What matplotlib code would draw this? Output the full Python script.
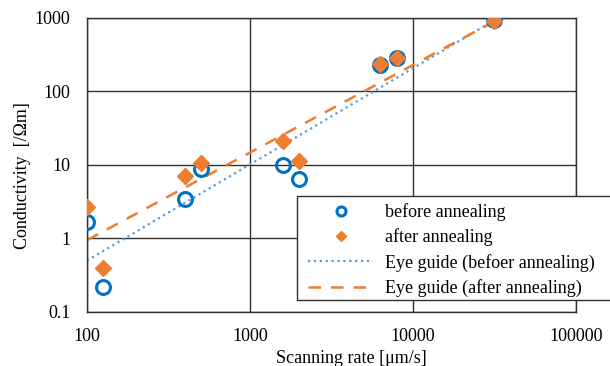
import matplotlib
matplotlib.use("Agg")
import matplotlib.pyplot as plt
from matplotlib.patches import Rectangle
from matplotlib.lines import Line2D

plt.rcParams['font.family'] = ['Liberation Serif', 'DejaVu Serif']

# scanning rate [um/s]
rate = [100, 125, 400, 500, 1600, 2000, 6300, 8000, 31500]
before = [1.7, 0.22, 3.4, 8.7, 10.0, 6.5, 230, 290, 930]
after = [2.7, 0.40, 7.0, 10.5, 21.0, 11.5, 235, 285, 920]

# eye guides (end points)
guide_x = [100, 31500]
guide_before = [0.5, 930]
guide_after = [0.95, 900]

blue = '#0070C0'
orange = '#ED7D31'
W, H = 610, 366

fig = plt.figure(figsize=(6.1, 3.66), dpi=100)
ax = fig.add_axes([87/W, 1 - 312/H, (576 - 87)/W, (312 - 18)/H])

ax.plot(rate, before, 'o', ms=10, mfc='none', mec=blue, mew=2.2, label='before annealing', zorder=3)
ax.plot(rate, after, 'D', ms=8.5, color=orange, label='after annealing', zorder=4)
ax.plot(guide_x, guide_before, ':', color='#5B9BD5', lw=1.6, label='Eye guide (befoer annealing)', zorder=2)
ax.plot(guide_x, guide_after, '--', color=orange, lw=1.8, dashes=(5, 4), label='Eye guide (after annealing)', zorder=2)

ax.set_xscale('log')
ax.set_yscale('log')
ax.set_xlim(100, 100000)
ax.set_ylim(0.1, 1000)
ax.set_xticks([100, 1000, 10000, 100000])
ax.set_xticklabels(['100', '1000', '10000', '100000'])
ax.set_yticks([0.1, 1, 10, 100, 1000])
ax.set_yticklabels(['0.1', '1', '10', '100', '1000'])
ax.minorticks_off()
ax.tick_params(length=0, labelsize=13)
ax.tick_params(axis='x', pad=11.5)
ax.tick_params(axis='y', pad=12)
ax.grid(True, color='#303030', lw=1)
for s in ax.spines.values():
    s.set_color('#303030')
    s.set_linewidth(1)

ax.set_xlabel('Scanning rate [μm/s]', fontsize=13)
ax.xaxis.set_label_coords(0.54, -0.13)
ax.set_ylabel('Conductivity  [/Ωm]', fontsize=13)
ax.yaxis.set_label_coords(-0.114, 0.463)

# legend box, open on the right (runs past the figure edge like the original)
x0, x1, y0, y1 = 297/W, 1.0, 1 - 300/H, 1 - 196/H
box = Rectangle((x0, y0), x1 - x0, y1 - y0, transform=fig.transFigure,
                facecolor='white', edgecolor='none', zorder=5, clip_on=False)
ax.add_patch(box)
edge = Line2D([x1, x0, x0, x1], [y1, y1, y0, y0], transform=fig.transFigure,
              color='#303030', lw=1, zorder=5.5, clip_on=False)
ax.add_line(edge)

leg = ax.legend(loc='upper left', bbox_to_anchor=(308/W, 1 - 203/H), bbox_transform=fig.transFigure,
                fontsize=13, frameon=False, borderpad=0, labelspacing=0.42, markerscale=0.65,
                handlelength=3.6, handletextpad=0.67, borderaxespad=0)
leg.set_zorder(6)

fig.savefig('out.png', dpi=100)
